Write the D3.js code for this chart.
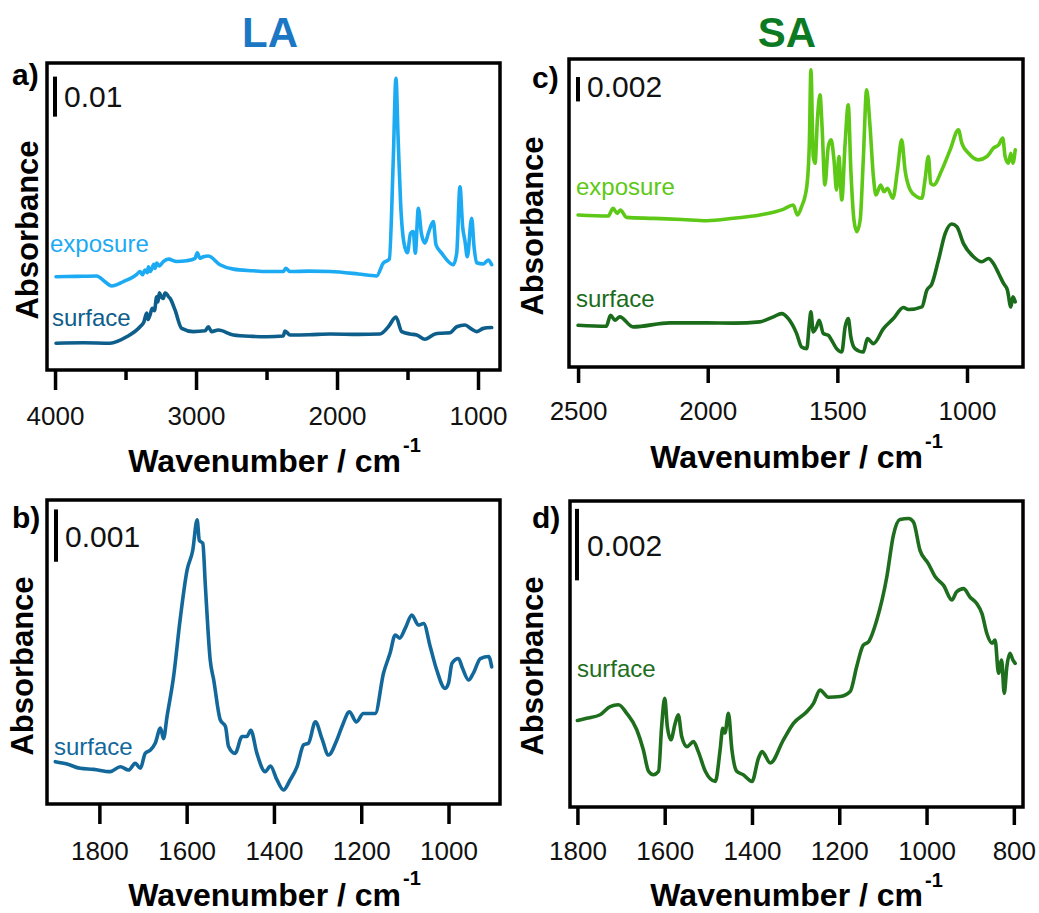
<!DOCTYPE html>
<html>
<head>
<meta charset="utf-8">
<script src="https://cdn.jsdelivr.net/npm/d3@7"></script>
<style>
  body { margin: 0; background: #fff; }
  svg { display: block; }
</style>
</head>
<body>
<div id="figure"></div>
<script>
// absorbance values are stored in milli-absorbance (x1000), x in cm-1
const laExposureA = [
  [3993, 23.3], [3850, 23.4], [3704, 23.5], [3650, 22.2], [3598, 21.0], [3515, 22.1], [3444, 23.3], [3420, 23.9], [3397, 24.6],
  [3380, 23.8], [3362, 25.0], [3345, 24.3], [3338, 25.8], [3325, 24.6], [3314, 25.2], [3300, 26.4],
  [3290, 25.4], [3279, 26.7], [3260, 26.0], [3232, 27.1], [3196, 27.7], [3137, 27.1], [3066, 27.3],
  [3007, 27.9], [2991, 29.3], [2972, 27.9], [2948, 28.3], [2913, 28.5], [2830, 26.3], [2735, 25.2],
  [2600, 24.8], [2499, 24.6], [2381, 24.6], [2364, 25.4], [2333, 24.6], [2200, 24.7], [2050, 24.6], [1850, 24.0], [1719, 23.5], [1672, 26.7],
  [1629, 27.7], [1601, 52.5], [1582, 72.9], [1567, 58.3], [1549, 41.7], [1525, 31.7], [1501, 29.3],
  [1478, 34.2], [1459, 34.6], [1445, 29.2], [1423, 40.4], [1402, 34.2], [1376, 31.7], [1352, 34.2],
  [1317, 37.1], [1298, 31.3], [1258, 29.2], [1175, 26.3], [1151, 29.2], [1128, 45.8], [1109, 35.8],
  [1092, 32.1], [1076, 28.3], [1045, 37.9], [1028, 30.8], [1010, 26.8], [962, 26.5], [927, 27.5],
  [903, 26.3]
];
const laSurfaceA = [
  [3993, 6.7], [3800, 6.8], [3610, 6.7], [3492, 8.3], [3397, 10.8], [3370, 12.0], [3350, 14.2], [3340, 12.6],
  [3326, 13.8], [3310, 15.4], [3295, 14.8], [3279, 18.3], [3270, 17.0], [3260, 19.3], [3245, 18.2],
  [3232, 17.9], [3220, 19.2], [3208, 19.0], [3195, 18.3], [3184, 17.9], [3149, 15.0], [3102, 10.4],
  [3019, 9.6], [2936, 9.8], [2913, 10.8], [2889, 9.6], [2842, 10.0], [2735, 8.75], [2600, 8.4], [2499, 8.3],
  [2381, 8.5], [2369, 9.75], [2333, 8.75], [2200, 8.8], [2050, 9.0], [1850, 8.9], [1695, 9.0], [1636, 10.8], [1582, 13.2],
  [1541, 9.6], [1482, 9.0], [1435, 8.75], [1376, 7.7], [1305, 9.0], [1258, 9.2], [1199, 9.3],
  [1151, 10.8], [1092, 11.25], [1045, 10.2], [1010, 9.6], [962, 10.4], [903, 10.6]
];
const laSurfaceB = [
  [1901, 0.809], [1874, 0.764], [1844, 0.682], [1813, 0.662], [1775, 0.618], [1752, 0.713],
  [1733, 0.650], [1718, 0.777], [1706, 0.682], [1695, 0.968], [1683, 1.03], [1672, 1.16],
  [1660, 1.45], [1653, 1.25], [1645, 1.67], [1630, 2.43], [1615, 3.52], [1599, 4.47], [1586, 4.85],
  [1576, 5.43], [1571, 5.04], [1563, 4.98], [1557, 4.15], [1546, 2.75], [1538, 2.37], [1523, 1.61],
  [1511, 1.48], [1504, 1.10], [1489, 0.968], [1473, 1.29], [1462, 1.29], [1453, 1.41], [1439, 0.968],
  [1420, 0.618], [1408, 0.726], [1393, 0.459], [1378, 0.268], [1363, 0.459], [1347, 0.713],
  [1332, 1.13], [1321, 1.16], [1305, 1.57], [1290, 1.25], [1275, 0.936], [1256, 1.22], [1244, 1.48],
  [1227, 1.76], [1211, 1.57], [1195, 1.73], [1168, 1.73], [1149, 2.50], [1134, 2.88], [1122, 3.23],
  [1112, 3.17], [1099, 3.36], [1084, 3.61], [1069, 3.42], [1057, 3.45], [1042, 3.01], [1027, 2.56],
  [1008, 2.21], [1000, 2.31], [992, 2.69], [977, 2.78], [969, 2.62], [954, 2.37], [943, 2.50],
  [927, 2.78], [908, 2.82], [901, 2.62]
];
const saExposureC = [
  [2500, 12.47], [2384, 12.38], [2365, 13.01], [2349, 12.60], [2337, 12.88], [2313, 12.27],
  [2210, 12.19], [2100, 12.1], [2004, 12.0], [1900, 12.2], [1799, 12.47], [1709, 12.93], [1670, 13.29], [1654, 12.47],
  [1638, 13.15], [1618, 14.79], [1608, 18.36], [1602, 24.38], [1593, 17.26], [1586, 16.71],
  [1577, 20.27], [1567, 22.33], [1559, 19.73], [1548, 14.93], [1535, 18.08], [1524, 18.63],
  [1513, 16.99], [1503, 14.52], [1494, 17.26], [1483, 13.70], [1470, 18.36], [1458, 21.51],
  [1448, 16.16], [1436, 12.05], [1425, 11.10], [1412, 12.05], [1400, 16.99], [1387, 22.74],
  [1374, 19.73], [1361, 15.62], [1351, 14.11], [1333, 14.93], [1320, 14.38], [1307, 14.66],
  [1286, 13.84], [1268, 16.16], [1252, 18.63], [1239, 16.16], [1219, 14.52], [1194, 13.97],
  [1174, 13.84], [1162, 15.34], [1149, 17.26], [1140, 15.07], [1129, 14.93], [1097, 16.16],
  [1065, 17.81], [1033, 19.45], [1020, 18.36], [994, 17.53], [956, 16.99], [923, 17.26],
  [898, 17.95], [878, 18.22], [862, 18.77], [853, 17.26], [840, 16.71], [831, 17.53], [823, 16.71],
  [814, 17.81]
];
const saSurfaceC = [
  [2500, 3.42], [2391, 3.34], [2375, 4.25], [2358, 3.84], [2339, 4.11], [2288, 3.29], [2146, 3.62],
  [2004, 3.62], [1900, 3.6], [1799, 3.70], [1747, 4.11], [1715, 4.38], [1689, 3.97], [1657, 2.74], [1638, 1.64],
  [1618, 1.51], [1608, 3.56], [1602, 4.52], [1593, 2.88], [1580, 3.29], [1570, 3.84], [1554, 2.74],
  [1535, 2.60], [1522, 2.19], [1503, 1.51], [1483, 1.23], [1470, 3.29], [1458, 3.97], [1448, 2.47],
  [1432, 1.51], [1400, 1.23], [1384, 2.33], [1361, 1.92], [1322, 3.15], [1284, 3.97], [1245, 4.88],
  [1226, 4.71], [1174, 4.93], [1155, 6.30], [1136, 6.79], [1110, 8.77], [1084, 10.96], [1059, 11.73],
  [1039, 11.51], [1014, 10.14], [975, 9.04], [943, 8.63], [917, 8.90], [898, 8.49], [878, 7.67],
  [859, 6.85], [844, 6.30], [831, 4.93], [823, 5.75], [814, 5.34]
];
const saSurfaceD = [
  [1800, 2.42], [1779, 2.48], [1748, 2.58], [1725, 2.81], [1706, 2.86], [1687, 2.62], [1664, 2.16],
  [1649, 1.60], [1637, 1.00], [1626, 0.902], [1614, 1.00], [1607, 2.25], [1600, 3.04], [1594, 2.25],
  [1586, 1.88], [1576, 2.34], [1569, 2.58], [1561, 1.97], [1549, 1.69], [1534, 1.83], [1523, 1.55],
  [1507, 1.00], [1484, 0.716], [1473, 1.60], [1467, 2.20], [1462, 2.07], [1454, 2.62], [1446, 1.60],
  [1435, 1.00], [1420, 0.902], [1400, 0.716], [1385, 1.37], [1377, 1.55], [1358, 1.23], [1328, 1.88],
  [1305, 2.34], [1274, 2.67], [1259, 2.90], [1244, 3.27], [1225, 3.07], [1198, 3.09], [1175, 3.23],
  [1160, 3.93], [1145, 4.53], [1133, 4.62], [1114, 5.23], [1091, 6.44], [1076, 7.60], [1061, 8.04],
  [1041, 8.07], [1030, 7.97], [1015, 7.18], [996, 6.81], [980, 6.44], [961, 6.20], [942, 5.79],
  [931, 6.02], [915, 6.11], [901, 5.88], [885, 5.69], [873, 5.41], [862, 4.86], [850, 4.58],
  [843, 4.67], [835, 3.74], [828, 4.11], [822, 3.18], [816, 3.93], [809, 4.30], [802, 4.11],
  [797, 4.02]
];

const ticksA = [4000, 3000, 2000, 1000];
const minorA = [3500, 2500, 1500];
const ticksB = [1800, 1600, 1400, 1200, 1000];
const ticksC = [2500, 2000, 1500, 1000];
const ticksD = [1800, 1600, 1400, 1200, 1000, 800];

// scale bars (absorbance)
const barA = 0.01, barB = 0.001, barC = 0.002, barD = 0.002;

const FONT = "'Liberation Sans', Arial, Helvetica, sans-serif";
const COLORS = {
    laTitle: "#1B77C4",
    saTitle: "#0C7A22",
    laExp: "#1CAAF3",
    laSurf: "#0E5E8C",
    laSurfB: "#13689B",
    saExp: "#5DC816",
    saSurf: "#1A6C1A",
    saSurfD: "#1E6E1E"
};

var svg = d3.select("#figure")
    .append("svg")
    .attr("width", 1039)
    .attr("height", 913);

// column titles
svg.append("text")
    .attr("x", 270).attr("y", 47)
    .attr("text-anchor", "middle")
    .style("font-family", FONT).style("font-weight", "bold").style("font-size", "42px")
    .style("fill", COLORS.laTitle)
    .text("LA");
svg.append("text")
    .attr("x", 787).attr("y", 47)
    .attr("text-anchor", "middle")
    .style("font-family", FONT).style("font-weight", "bold").style("font-size", "42px")
    .style("fill", COLORS.saTitle)
    .text("SA");

var panels = [
    {
        letter: "a)", letterPos: [12, 85],
        frame: { x0: 47, x1: 500, y0: 63, y1: 370 },
        xDomain: [4057, 844], yTop: 76.7,
        ticks: ticksA, minor: minorA, tickLen: 20, minorLen: 10, tickLabelY: 425,
        xLabelEnd: 401, xLabelY: 472, supY: 452,
        yLabelPos: [38, 230],
        bar: { x: 55, top: 73.3, size: barA, text: "0.01", tx: 64, ty: 107 },
        series: [
            { data: laExposureA, color: COLORS.laExp, label: "exposure", lx: 50, ly: 252 },
            { data: laSurfaceA, color: COLORS.laSurf, label: "surface", lx: 52, ly: 326 }
        ]
    },
    {
        letter: "c)", letterPos: [532, 88],
        frame: { x0: 569, x1: 1023, y0: 59, y1: 367 },
        xDomain: [2535, 784], yTop: 25.26,
        ticks: ticksC, minor: [], tickLen: 16, minorLen: 0, tickLabelY: 420,
        xLabelEnd: 923, xLabelY: 468, supY: 448,
        yLabelPos: [543, 226],
        bar: { x: 578, top: 23.78, size: barC, text: "0.002", tx: 587, ty: 97 },
        series: [
            { data: saExposureC, color: COLORS.saExp, label: "exposure", lx: 576, ly: 195 },
            { data: saSurfaceC, color: COLORS.saSurf, label: "surface", lx: 576, ly: 307 }
        ]
    },
    {
        letter: "b)", letterPos: [12, 528],
        frame: { x0: 47, x1: 500, y0: 500, y1: 804 },
        xDomain: [1920, 882], yTop: 5.81,
        ticks: ticksB, minor: [], tickLen: 20, minorLen: 0, tickLabelY: 860,
        xLabelEnd: 401, xLabelY: 906, supY: 885,
        yLabelPos: [33, 666],
        bar: { x: 56, top: 5.63, size: barB, text: "0.001", tx: 65, ty: 547 },
        series: [
            { data: laSurfaceB, color: COLORS.laSurfB, label: "surface", lx: 54, ly: 755 }
        ]
    },
    {
        letter: "d)", letterPos: [532, 528],
        frame: { x0: 570, x1: 1023, y0: 501, y1: 807 },
        xDomain: [1817, 779], yTop: 8.56,
        ticks: ticksD, minor: [], tickLen: 18, minorLen: 0, tickLabelY: 860,
        xLabelEnd: 923, xLabelY: 906, supY: 887,
        yLabelPos: [543, 666],
        bar: { x: 577, top: 8.34, size: barD, text: "0.002", tx: 587, ty: 556 },
        series: [
            { data: saSurfaceD, color: COLORS.saSurfD, label: "surface", lx: 577, ly: 677 }
        ]
    }
];

function drawPanel(p) {
    var f = p.frame;
    var x = d3.scaleLinear().domain(p.xDomain).range([f.x0, f.x1]);
    var y = d3.scaleLinear().domain([0, p.yTop]).range([f.y1, f.y0]);
    var g = svg.append("g");

    // the spectra
    var line = d3.line()
        .curve(d3.curveMonotoneX)
        .x(d => x(d[0]))
        .y(d => y(d[1]));
    p.series.forEach(s => {
        g.append("path")
            .datum(s.data)
            .attr("d", line)
            .style("fill", "none")
            .style("stroke", s.color)
            .style("stroke-width", 3.6)
            .style("stroke-linejoin", "round")
            .style("stroke-linecap", "round");
        g.append("text")
            .attr("x", s.lx).attr("y", s.ly)
            .style("font-family", FONT).style("font-size", "24px")
            .style("fill", s.color)
            .text(s.label);
    });

    // frame
    g.append("rect")
        .attr("x", f.x0).attr("y", f.y0)
        .attr("width", f.x1 - f.x0).attr("height", f.y1 - f.y0)
        .style("fill", "none")
        .style("stroke", "#000")
        .style("stroke-width", 3.5);

    // bottom axis: ticks below the frame, labels beneath
    var axis = g.append("g")
        .attr("transform", "translate(0," + f.y1 + ")")
        .call(d3.axisBottom(x)
            .tickValues(p.ticks)
            .tickSize(p.tickLen)
            .tickPadding(0)
            .tickFormat(d3.format("d")));
    axis.select(".domain").remove();
    axis.selectAll(".tick line")
        .style("stroke", "#000")
        .style("stroke-width", 3.5);
    axis.selectAll(".tick text")
        .attr("y", p.tickLabelY - f.y1)
        .attr("dy", null)
        .style("font-family", FONT)
        .style("font-size", "26px")
        .style("fill", "#111");

    if (p.minor.length) {
        var minorAxis = g.append("g")
            .attr("transform", "translate(0," + f.y1 + ")")
            .call(d3.axisBottom(x).tickValues(p.minor).tickSize(p.minorLen).tickFormat(""));
        minorAxis.select(".domain").remove();
        minorAxis.selectAll(".tick line")
            .style("stroke", "#000")
            .style("stroke-width", 3.5);
    }

    // x axis title with superscript
    g.append("text")
        .attr("x", p.xLabelEnd).attr("y", p.xLabelY)
        .attr("text-anchor", "end")
        .style("font-family", FONT).style("font-weight", "bold").style("font-size", "32px")
        .style("fill", "#000")
        .text("Wavenumber / cm");
    g.append("text")
        .attr("x", p.xLabelEnd + 2).attr("y", p.supY)
        .style("font-family", FONT).style("font-weight", "bold").style("font-size", "20px")
        .style("fill", "#000")
        .text("-1");

    // y axis title
    g.append("text")
        .attr("transform", "translate(" + p.yLabelPos[0] + "," + p.yLabelPos[1] + ") rotate(-90)")
        .attr("text-anchor", "middle")
        .style("font-family", FONT).style("font-weight", "bold").style("font-size", "31px")
        .style("fill", "#000")
        .text("Absorbance");

    // panel letter
    g.append("text")
        .attr("x", p.letterPos[0]).attr("y", p.letterPos[1])
        .style("font-family", FONT).style("font-weight", "bold").style("font-size", "30px")
        .style("fill", "#000")
        .text(p.letter);

    // scale bar
    var b = p.bar;
    g.append("line")
        .attr("x1", b.x).attr("x2", b.x)
        .attr("y1", y(b.top)).attr("y2", y(b.top - b.size * 1000))
        .style("stroke", "#000")
        .style("stroke-width", 4);
    g.append("text")
        .attr("x", b.tx).attr("y", b.ty)
        .style("font-family", FONT).style("font-size", "30px")
        .style("fill", "#111")
        .text(b.text);
}

panels.forEach(drawPanel);
</script>
</body>
</html>
